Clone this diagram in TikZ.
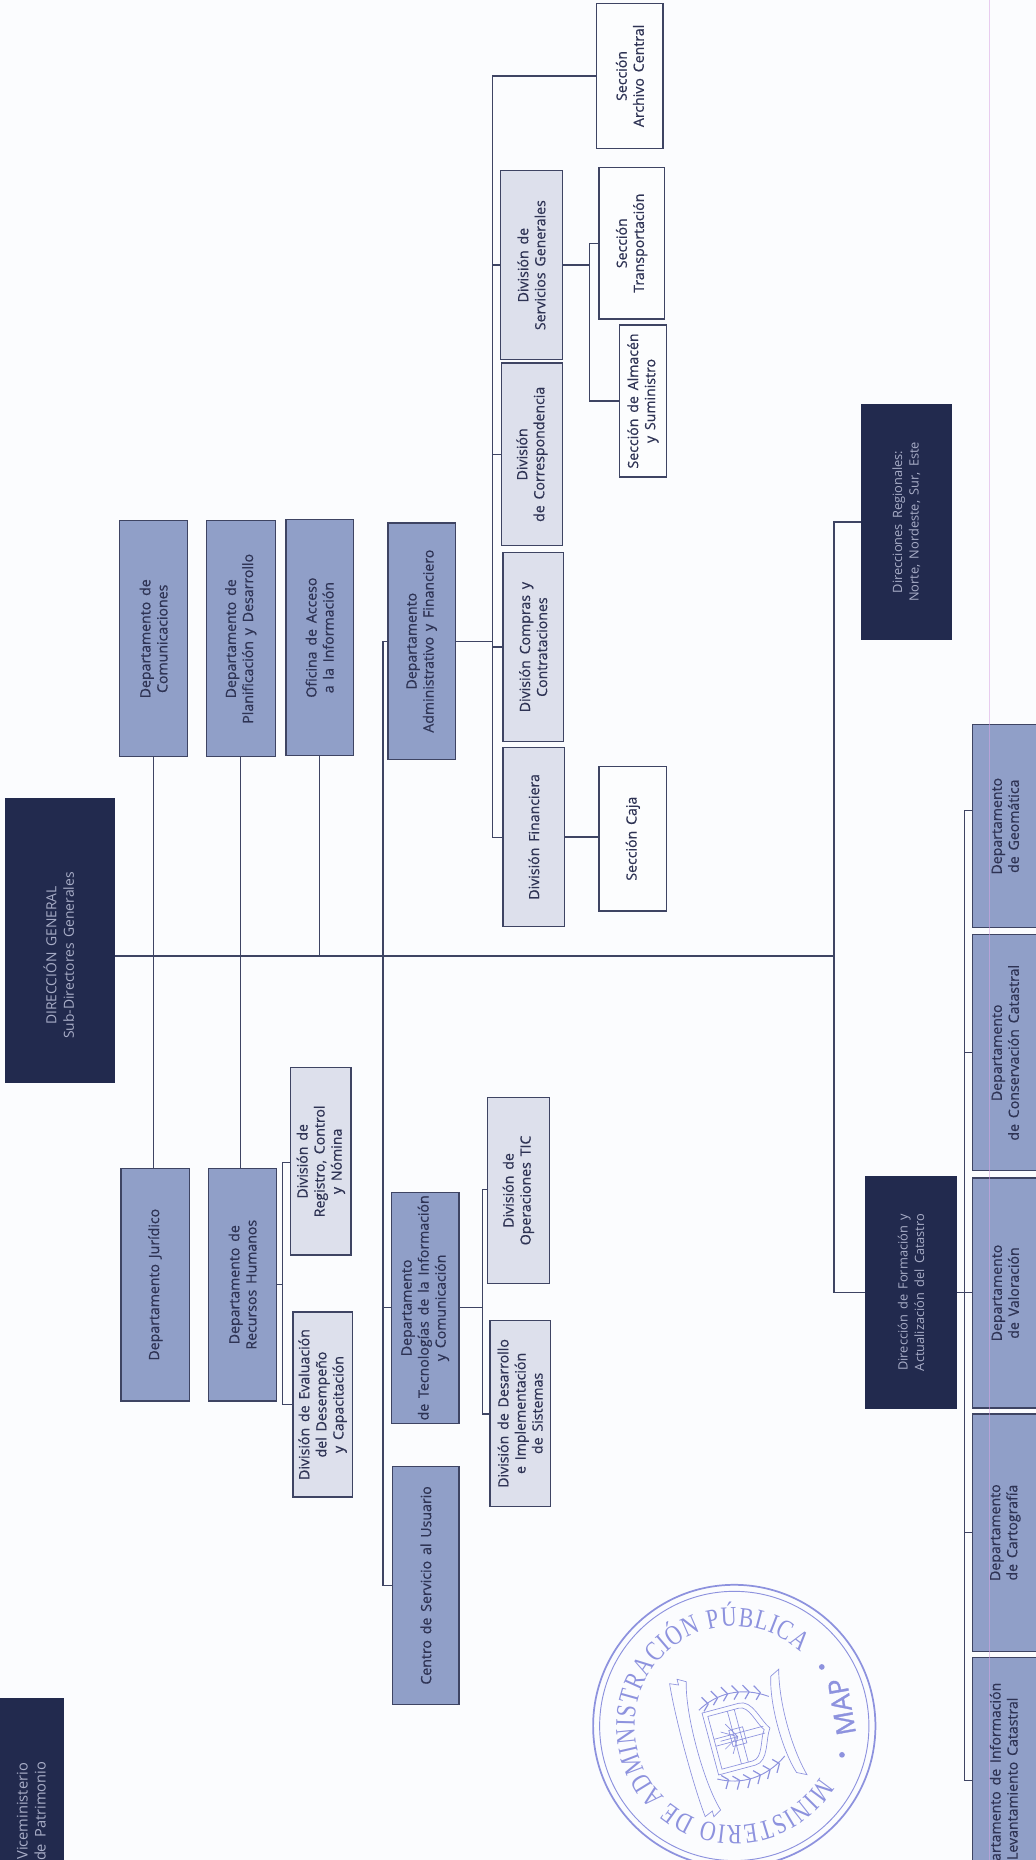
\documentclass[tikz,border=0pt]{standalone}
\usepackage{fontspec}
\usetikzlibrary{decorations.text}
\setmainfont[WordSpace=1.6]{Open Sans}
\newfontfamily\medfont[FakeBold=0.7,WordSpace=1.6]{Open Sans}
\newfontfamily\sealfont[FakeStretch=0.78]{Liberation Serif}
\newfontfamily\mapfont[FakeBold=1.2]{Open Sans}
\definecolor{paper}{HTML}{FBFCFE}
\definecolor{linec}{HTML}{3E4463}
\definecolor{deptc}{HTML}{909FC8}
\definecolor{divc}{HTML}{DDE0EC}
\definecolor{secc}{HTML}{FCFDFE}
\definecolor{darkc}{HTML}{222A4E}
\definecolor{inkc}{HTML}{2E3354}
\definecolor{lightink}{HTML}{A9AEC8}
\definecolor{sealc}{HTML}{8D92DE}
\definecolor{pinkc}{HTML}{D9A6E4}
\tikzset{
  boxbase/.style={draw=linec,line width=1pt,rotate=90,inner sep=0pt,align=center,font=\medfont\fontsize{10.6}{12.8}\selectfont,text=inkc},
  dept/.style={boxbase,fill=deptc},
  divi/.style={boxbase,fill=divc},
  secc/.style={boxbase,fill=secc},
  dark/.style={boxbase,fill=darkc,draw=darkc,text=lightink,font=\fontsize{9.6}{12.4}\selectfont},
  darktext/.style={rotate=90,inner sep=0pt,align=center,text=lightink},
  conn/.style={draw=linec,line width=1pt}
}
\newcommand{\orgbox}[7]{\node[#2,minimum width={(#6-#4)*0.89pt},minimum height={(#5-#3)*0.89pt}] (#1) at ({(#3+#5)/2},{(#4+#6)/2}) {#7};}
\begin{document}
\begin{tikzpicture}[x=0.89pt,y=-0.89pt]
\useasboundingbox (0,0) rectangle (873.3,1568);
\clip (0,0) rectangle (873.3,1568);
\fill[paper] (0,0) rectangle (873.3,1568);
% boxes
\orgbox{dg}{dark}{5}{673}{96}{912}{}
\node[darktext,font=\fontsize{10.4}{13}\selectfont] (dgt) at (49.5,805.5) {DIRECCIÓN GENERAL\\Sub-Directores Generales};
\orgbox{vice}{dark,font=\fontsize{11}{13.5}\selectfont}{0}{1432}{53}{1622}{Viceministerio\\de Patrimonio}
\orgbox{jur}{dept}{102}{985}{160}{1181}{Departamento Jurídico}
\orgbox{rh}{dept}{176}{985}{233}{1181}{Departamento de\\Recursos Humanos}
\orgbox{reg}{divi}{245}{900}{296}{1058}{División de\\Registro, Control\\y Nómina}
\orgbox{eval}{divi}{247}{1106}{297}{1262}{División de Evaluación\\del Desempeño\\y Capacitación}
\orgbox{tic}{dept}{330}{1005}{387}{1200}{Departamento\\de Tecnologías de la Información\\y Comunicación}
\orgbox{dev}{divi}{413}{1113}{464}{1270}{División de Desarrollo\\e Implementación\\de Sistemas}
\orgbox{oper}{divi}{411}{925}{463}{1082}{División de\\Operaciones TIC}
\orgbox{centro}{dept}{331}{1236}{387}{1437}{Centro de Servicio al Usuario}
\orgbox{comu}{dept}{101}{439}{158}{638}{Departamento de\\Comunicaciones}
\orgbox{plan}{dept}{174}{439}{232}{638}{Departamento de\\Planificación y Desarrollo}
\orgbox{ofi}{dept}{241}{438}{298}{637}{Oficina de Acceso\\a la Información}
\orgbox{admin}{dept}{327}{441}{384}{640}{Departamento\\Administrativo y Financiero}
\orgbox{fin}{divi}{424}{630}{476}{781}{División Financiera}
\orgbox{comp}{divi}{424}{466}{475}{625}{División Compras y\\Contrataciones}
\orgbox{corr}{divi}{423}{306}{474}{460}{División\\de Correspondencia}
\orgbox{serv}{divi}{422}{144}{474}{303}{División de\\Servicios Generales}
\orgbox{caja}{secc}{505}{646}{562}{768}{Sección Caja}
\orgbox{alma}{secc}{522}{274}{562}{402}{Sección de Almacén\\y Suministro}
\orgbox{trans}{secc}{505}{141}{560}{269}{Sección\\Transportación}
\orgbox{arch}{secc}{503}{3}{559}{125}{Sección\\Archivo Central}
\orgbox{dreg}{dark}{726}{341}{802}{539}{Direcciones Regionales:\\Norte, Nordeste, Sur, Este}
\orgbox{dfa}{dark}{730}{992}{806}{1187}{Dirección de Formación y\\Actualización del Catastro}
\orgbox{geo}{dept}{820}{611}{875}{782}{Departamento\\de Geomática}
\orgbox{cons}{dept}{820}{788}{875}{987}{Departamento\\de Conservación Catastral}
\orgbox{valo}{dept}{820}{993}{875}{1187}{Departamento\\de Valoración}
\orgbox{cart}{dept}{820}{1192}{875}{1392}{Departamento\\de Cartografía}
\orgbox{info}{dept}{820}{1397}{875}{1613}{Departamento de Información\\y Levantamiento Catastral}
\draw[pinkc,line width=0.7pt,opacity=0.55] (834,0) -- (834,1568);
% junction points
\coordinate (t0) at (dg.south |- 0,806);
\coordinate (t1) at (703,806);
\coordinate (sa) at (323,806);
\coordinate (h1) at (238,980);
\coordinate (h2) at (238,1184);
\coordinate (i1) at (407,1003);
\coordinate (i2) at (407,1192);
\coordinate (k1) at (415,64);
\coordinate (k2) at (415,706);
\coordinate (m1) at (497,205);
\coordinate (m2) at (497,338);
\coordinate (q1) at (813,683);
\coordinate (q2) at (813,1501);
% connectors
\draw[conn] (t0) -- (t1);
\draw[conn] (comu.west) -- (comu.west |- jur.east);
\draw[conn] (plan.west) -- (plan.west |- rh.east);
\draw[conn] (ofi.west) -- (ofi.west |- t0);
\draw[conn] (admin.north) -- (sa |- admin.north) -- (sa |- centro.north) -- (centro.north);
\draw[conn] (tic.north) -- (sa |- tic.north);
\draw[conn] (dreg.north) -- (t1 |- dreg.north) -- (t1 |- dfa.north) -- (dfa.north);
\draw[conn] (rh.south) -- (h1 |- rh.south);
\draw[conn] (reg.north |- h1) -- (h1) -- (h2) -- (eval.north |- h2);
\draw[conn] (tic.south) -- (i1 |- tic.south);
\draw[conn] (oper.north |- i1) -- (i1) -- (i2) -- (dev.north |- i2);
\draw[conn] (admin.south) -- (k1 |- admin.south);
\draw[conn] (arch.north |- k1) -- (k1) -- (k2) -- (fin.north |- k2);
\draw[conn] (comp.north) -- (k1 |- comp.north);
\draw[conn] (corr.north) -- (k1 |- corr.north);
\draw[conn] (serv.north) -- (k1 |- serv.north);
\draw[conn] (fin.south) -- (caja.north |- fin.south);
\draw[conn] (serv.south) -- (m1 |- serv.south);
\draw[conn] (trans.north |- m1) -- (m1) -- (m2) -- (alma.north |- m2);
\draw[conn] (dfa.south) -- (valo.north |- dfa.south);
\draw[conn] (geo.north |- q1) -- (q1) -- (q2) -- (info.north |- q2);
\draw[conn] (cons.north) -- (q1 |- cons.north);
\draw[conn] (cart.north) -- (q1 |- cart.north);
% seal
\coordinate (sc) at (619,1455);
\begin{scope}[x=0.89pt,y=0.89pt,shift={(sc)}]
\draw[sealc,line width=1.3pt] (0,0) circle (119);
\draw[sealc,line width=0.7pt] (0,0) circle (113.5);
\path[decorate,decoration={text along path,text align={fit to path},text color=sealc,
  text={|\sealfont\fontsize{21}{21}\selectfont|MINISTERIO DE ADMINISTRACIÓN PÚBLICA}}]
  (-31:84) arc[start angle=-31,end angle=-312,radius=84];
\node[rotate=100,text=sealc,font=\mapfont\fontsize{20}{20}\selectfont] (mapt) at (10:92) {MAP};
\fill[sealc] (-15:94) circle (2.4) (34:89) circle (2.4);
\begin{scope}[shift={(3,-9)},rotate=105,sealc,line width=0.5pt]
  % shield
  \draw (-27,24) -- (27,24) -- (27,-8) .. controls (27,-20) and (8,-22) .. (0,-28) .. controls (-8,-22) and (-27,-20) .. (-27,-8) -- cycle;
  \draw (-23,20) -- (23,20) -- (23,-7) .. controls (23,-16) and (6,-18) .. (0,-23) .. controls (-6,-18) and (-23,-16) .. (-23,-7) -- cycle;
  \draw (-3,20) -- (-3,-23) (3,20) -- (3,-23) (-23,3) -- (23,3) (-23,-3) -- (23,-3);
  \foreach \a in {-60,-30,0,30,60} \draw (0,0) -- ++(90+\a:15);
  \draw (-7,-6) rectangle (7,6);
  % laurels
  \foreach \s in {-1,1} {
    \draw[line width=0.7pt] (\s*26,-34) .. controls (\s*40,-14) and (\s*40,8) .. (\s*30,26);
    \foreach \t/\u in {-28/31,-19/34,-10/36,-1/37,8/36,17/33}
      \draw[line width=0.9pt] (\s*\u,\t) -- ++(\s*7,4) (\s*\u,\t) -- ++(-\s*5,5);
  }
  % ribbons
  \draw (-56,30) .. controls (-30,38) and (30,38) .. (56,30) -- (60,37) -- (55,37) -- (58,44) .. controls (30,47) and (-30,47) .. (-58,44) -- (-55,37) -- (-60,37) -- cycle;
  \draw (-42,-40) .. controls (-20,-33) and (20,-33) .. (42,-40) -- (46,-48) .. controls (20,-41) and (-20,-41) .. (-46,-48) -- cycle;
\end{scope}
\end{scope}
\end{tikzpicture}
\end{document}
